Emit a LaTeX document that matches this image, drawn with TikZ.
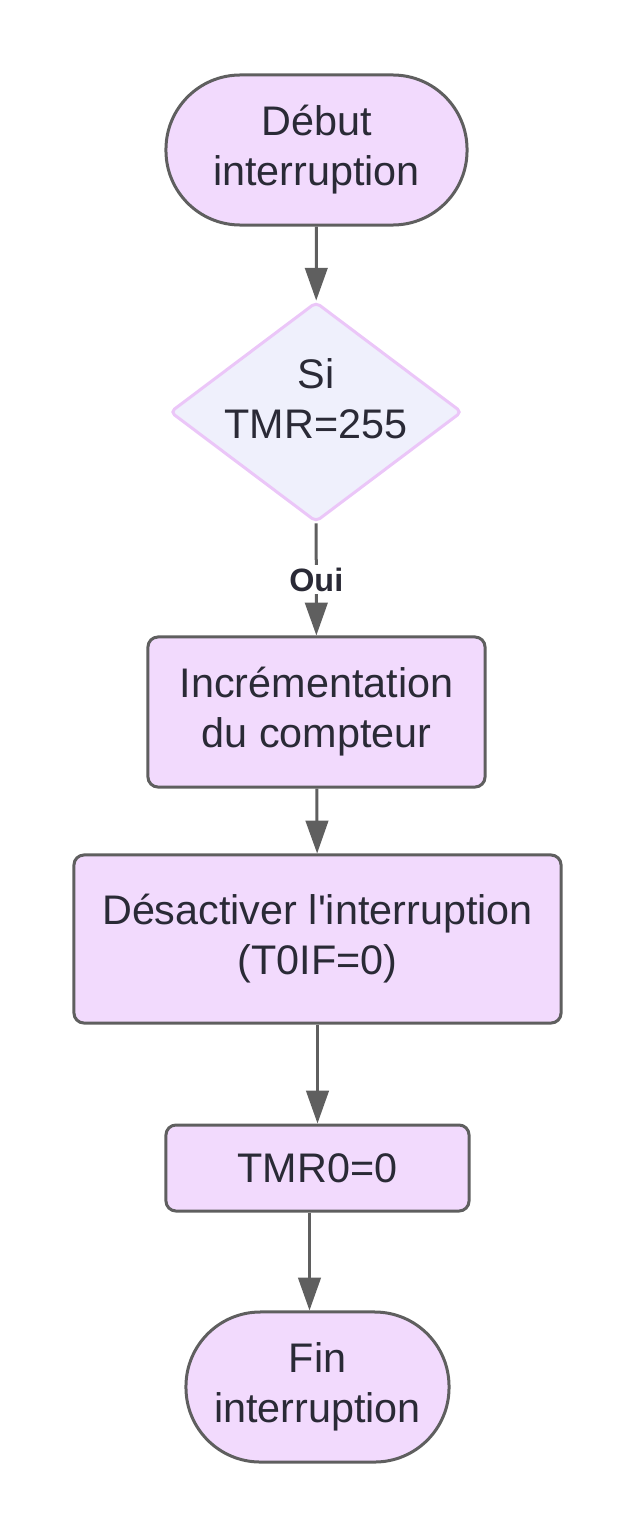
\documentclass[tikz,border=0pt]{standalone}
\usepackage{fontspec}
\setmainfont{Liberation Sans}
\usetikzlibrary{arrows.meta,shapes.geometric}
\definecolor{boxfill}{HTML}{F2DAFD}
\definecolor{boxline}{HTML}{5F5F5F}
\definecolor{condfill}{HTML}{EFF0FC}
\definecolor{condline}{HTML}{EBC6F8}
\definecolor{txt}{HTML}{2A2A36}

\begin{document}
\begin{tikzpicture}[x=0.025cm, y=-0.025cm,
   >={Triangle[length=0.82cm,width=0.56cm]},
   every node/.style={text=txt, font=\fontsize{29.4}{35.5}\selectfont, align=center},
   box/.style={draw=boxline, fill=boxfill, line width=0.075cm, rounded corners=0.25cm, inner sep=0pt},
   term/.style={box, rounded corners=1.86cm},
   cond/.style={diamond, draw=condline, fill=condfill, line width=0.075cm, rounded corners=0.12cm,
                inner sep=0pt},
   link/.style={->, draw=boxline, line width=0.075cm}]

  \useasboundingbox (0,0) rectangle (638,1538);

  % les blocs
  \node[term, minimum width=7.525cm, minimum height=3.75cm] (debut) at (316.5,150) {Début\\interruption};
  \node[cond, minimum width=7.3cm, minimum height=5.5cm,
        label={[yshift=0.33cm]center:{Si\\TMR=255}}] (si) at (316,412) {};
  \node[box, minimum width=8.425cm, minimum height=3.75cm] (inc) at (316.5,712) {Incrémentation\\du compteur};
  \node[box, minimum width=12.175cm, minimum height=4.2cm] (desact) at (317.5,939) {Désactiver l\textquotesingle interruption\\(T0IF=0)};
  \node[box, minimum width=7.575cm, minimum height=2.15cm] (tmr) at (317.5,1168) {TMR0=0};
  \node[term, minimum width=6.575cm, minimum height=3.75cm] (fin) at (317.5,1387) {Fin\\interruption};

  % les fleches
  \draw[link] (debut) -- (si);
  \draw[link] (si) -- node[fill=white, inner sep=2pt, font=\bfseries\fontsize{23}{28}\selectfont] {Oui} (inc);
  \foreach \a/\b in {inc/desact, desact/tmr}
    \draw[link] (\a) -- (\b);
  \draw[link] ([xshift=-0.2cm]tmr.south) -- ([xshift=-0.2cm]fin.north);

\end{tikzpicture}
\end{document}
